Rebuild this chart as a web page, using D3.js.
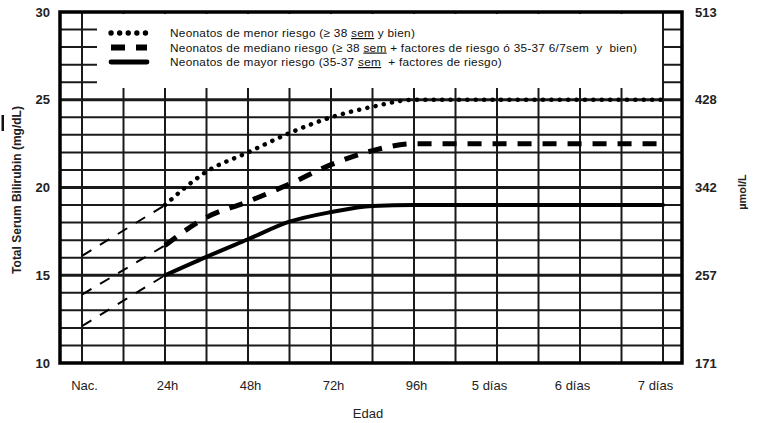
<!DOCTYPE html>
<html>
<head>
<meta charset="utf-8">
<script src="https://cdn.jsdelivr.net/npm/d3@7"></script>
<style>
  body { margin: 0; background: #fff; }
  svg { display: block; font-family: "Liberation Sans", Arial, sans-serif; }
</style>
</head>
<body>
<svg id="chart" width="757" height="423"></svg>
<script>
const horasTick = [0, 24, 48, 72, 96, 120, 144, 168];
const etiquetasEdad = ["Nac.", "24h", "48h", "72h", "96h", "5 días", "6 días", "7 días"];
const mgTicks = [10, 15, 20, 25, 30];
const umolLabels = ["171", "257", "342", "428", "513"];

// tramo extrapolado desde el nacimiento (linea fina discontinua)
const horasNac = [0, 24];
const menorNac = [16.1, 19];
const medianoNac = [13.9, 16.7];
const mayorNac = [12.1, 15];

// curvas principales
const horas = [24, 36, 48, 60, 72, 84, 96, 168];
const menorRiesgo = [19, 20.9, 22.0, 23.1, 24.0, 24.6, 25, 25];
const medianoRiesgo = [16.7, 18.3, 19.2, 20.2, 21.3, 22.1, 22.5, 22.5];
const mayorRiesgo = [15, 16.05, 17.05, 18.05, 18.6, 18.95, 19, 19];

const leyenda = [
  "Neonatos de menor riesgo (≥ 38 |sem| y bien)",
  "Neonatos de mediano riesgo (≥ 38 |sem| + factores de riesgo ó 35-37 6/7sem  y  bien)",
  "Neonatos de mayor riesgo (35-37 |sem|  + factores de riesgo)"
];

const svg = d3.select("#chart");
const frame = { left: 60, right: 682, top: 12, bottom: 363 };

const x = d3.scaleLinear().domain([0, 168]).range([82, 663]);
const y = d3.scaleLinear().domain([10, 30]).range([frame.bottom, frame.top]);

const ink = "#1a1a1a";

// rejilla vertical cada 12 h
svg.append("g")
  .selectAll("line")
  .data(d3.range(0, 169, 12))
  .join("line")
  .attr("x1", d => x(d)).attr("x2", d => x(d))
  .attr("y1", frame.top).attr("y2", frame.bottom)
  .attr("stroke", ink).attr("stroke-width", 2);

// rejilla horizontal cada 1 mg/dL
svg.append("g")
  .selectAll("line")
  .data(d3.range(11, 30))
  .join("line")
  .attr("x1", frame.left).attr("x2", frame.right)
  .attr("y1", d => y(d)).attr("y2", d => y(d))
  .attr("stroke", ink)
  .attr("stroke-width", d => d % 5 === 0 ? 3 : 2);

// caja de la leyenda tapa la rejilla
svg.append("rect")
  .attr("x", 97).attr("y", 14)
  .attr("width", x(168) - 97 - 1).attr("height", 74)
  .attr("fill", "#fff");

// marco
svg.append("rect")
  .attr("x", frame.left).attr("y", frame.top)
  .attr("width", frame.right - frame.left)
  .attr("height", frame.bottom - frame.top)
  .attr("fill", "none")
  .attr("stroke", "#000").attr("stroke-width", 3.5);

const line = d3.line()
  .x(d => x(d[0]))
  .y(d => y(d[1]))
  .curve(d3.curveMonotoneX);

// tramos extrapolados
[menorNac, medianoNac, mayorNac].forEach(vals => {
  svg.append("path")
    .attr("d", line(d3.zip(horasNac, vals)))
    .attr("fill", "none")
    .attr("stroke", "#000")
    .attr("stroke-width", 2)
    .attr("stroke-dasharray", "11 10");
});

const estilos = [
  { vals: menorRiesgo, w: 4.5, dash: "0.1 8.3", cap: "round" },
  { vals: medianoRiesgo, w: 5, dash: "14 11", cap: "butt" },
  { vals: mayorRiesgo, w: 4, dash: null, cap: "round" }
];

estilos.forEach(s => {
  svg.append("path")
    .attr("d", line(d3.zip(horas, s.vals)))
    .attr("fill", "none")
    .attr("stroke", "#000")
    .attr("stroke-width", s.w)
    .attr("stroke-linecap", s.cap)
    .attr("stroke-dasharray", s.dash);
});

// leyenda
const leg = svg.append("g");
leyenda.forEach((txt, i) => {
  const cy = 33 + i * 14.5;
  const s = estilos[i];
  leg.append("line")
    .attr("x1", 111).attr("x2", 147)
    .attr("y1", cy).attr("y2", cy)
    .attr("stroke", "#000")
    .attr("stroke-width", s.w + 0.8)
    .attr("stroke-linecap", s.cap)
    .attr("stroke-dasharray", i === 0 ? "0.1 8.5" : i === 1 ? "14 11" : null);
  const t = leg.append("text")
    .attr("x", 170).attr("y", cy + 4)
    .attr("font-size", 11.8)
    .attr("letter-spacing", 0.28)
    .style("white-space", "pre")
    .attr("fill", "#111");
  txt.split("|").forEach((part, j) => {
    const ts = t.append("tspan").text(part);
    if (j % 2 === 1) ts.style("text-decoration", "underline");
  });
});

// eje izquierdo
svg.append("g")
  .attr("transform", `translate(${frame.left},0)`)
  .call(d3.axisLeft(y).tickValues(mgTicks).tickSize(0).tickPadding(10))
  .call(g => g.select(".domain").remove())
  .call(g => g.selectAll("text")
    .attr("font-family", "Liberation Sans, Arial, sans-serif")
    .attr("font-size", 13).attr("font-weight", "bold").attr("fill", "#222"));

// eje derecho (umol/L)
svg.append("g")
  .attr("transform", `translate(${frame.right},0)`)
  .call(d3.axisRight(y).tickValues(mgTicks).tickSize(0).tickPadding(13)
    .tickFormat((d, i) => umolLabels[i]))
  .call(g => g.select(".domain").remove())
  .call(g => g.selectAll("text")
    .attr("font-family", "Liberation Sans, Arial, sans-serif")
    .attr("font-size", 13).attr("font-weight", "bold").attr("fill", "#222"));

// eje inferior
svg.append("g")
  .attr("transform", `translate(0,${frame.bottom})`)
  .call(d3.axisBottom(x).tickValues(horasTick).tickSize(0).tickPadding(18)
    .tickFormat((d, i) => etiquetasEdad[i]))
  .call(g => g.select(".domain").remove())
  .call(g => g.selectAll("text")
    .attr("font-family", "Liberation Sans, Arial, sans-serif")
    .attr("font-size", 13).attr("fill", "#222")
    .attr("dx", d => d > 96 ? -8 : 2));

// titulos
svg.append("text")
  .attr("transform", "translate(21,190) rotate(-90)")
  .attr("text-anchor", "middle")
  .attr("font-size", 12).attr("font-weight", "bold").attr("fill", "#222")
  .text("Total Serum Bilirubin (mg/dL)");

svg.append("text")
  .attr("transform", "translate(746,192) rotate(-90)")
  .attr("text-anchor", "middle")
  .attr("font-size", 11).attr("font-weight", "bold").attr("fill", "#222")
  .text("µmol/L");

svg.append("text")
  .attr("x", 368).attr("y", 418)
  .attr("text-anchor", "middle")
  .attr("font-size", 13).attr("fill", "#222")
  .text("Edad");

// marca suelta junto al titulo
svg.append("rect")
  .attr("x", 1.5).attr("y", 115).attr("width", 2.5).attr("height", 16)
  .attr("fill", "#111");
</script>
</body>
</html>
